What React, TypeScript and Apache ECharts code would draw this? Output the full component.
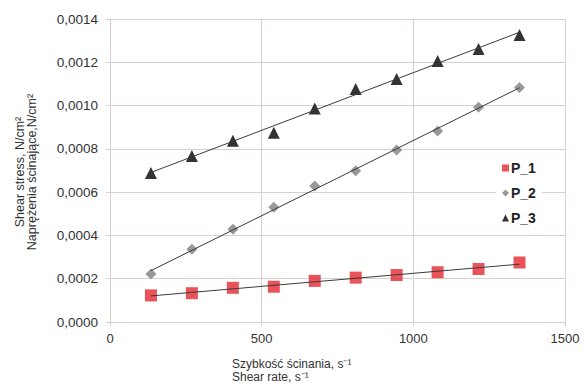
import React, { useEffect, useRef } from "react";
import * as echarts from "echarts";

const shearRate = [135, 270, 405, 540, 675, 810, 945, 1080, 1215, 1350];
const p1 = [0.000123, 0.000133, 0.000158, 0.000163, 0.00019, 0.000205, 0.000217, 0.00023, 0.000245, 0.000275];
const p2 = [0.000222, 0.000336, 0.000428, 0.00053, 0.000628, 0.000699, 0.000795, 0.000883, 0.000992, 0.001084];
const p3 = [0.000688, 0.000767, 0.000838, 0.000875, 0.000987, 0.001077, 0.001123, 0.001206, 0.001261, 0.001326];
const seriesNames = ["P_1", "P_2", "P_3"];
const xTicks = { min: 0, max: 1500, interval: 500 };
const yTicks = { min: 0, max: 0.0014, interval: 0.0002 };

function trend(xs: number[], ys: number[]) {
  const n = xs.length;
  const mx = xs.reduce((a, b) => a + b, 0) / n;
  const my = ys.reduce((a, b) => a + b, 0) / n;
  let sxy = 0, sxx = 0;
  for (let i = 0; i < n; i++) {
    sxy += (xs[i] - mx) * (ys[i] - my);
    sxx += (xs[i] - mx) * (xs[i] - mx);
  }
  const b = sxy / sxx;
  const a = my - b * mx;
  const x0 = xs[0], x1 = xs[n - 1];
  return [[x0, a + b * x0], [x1, a + b * x1]];
}

const FONT = "'Liberation Sans', Arial, sans-serif";
const GRID = "#d9cfcf";

export default function App() {
  const ref = useRef<HTMLDivElement>(null);
  useEffect(() => {
    if (!ref.current) return;
    const chart = echarts.init(ref.current, null, { renderer: "svg" });
    const sets = [p1, p2, p3];
    const symbols = ["rect", "diamond", "triangle"];
    const colors = ["#e5282f", "#7f7f7f", "#000000"];
    const sizes = [12, 11, 12];
    const scatter = sets.map((s, i) => ({
      name: seriesNames[i],
      type: "scatter",
      data: shearRate.map((x, j) => [x, s[j]]),
      symbol: symbols[i],
      symbolSize: sizes[i],
      itemStyle: { color: colors[i] },
      z: 2,
    }));
    const lines = sets.map((s, i) => ({
      name: seriesNames[i] + "_trend",
      type: "line",
      data: trend(shearRate, s),
      symbol: "none",
      lineStyle: { color: "#3a3a3a", width: 1 },
      itemStyle: { color: "#3a3a3a" },
      silent: true,
      z: 3,
    }));
    chart.setOption({
      animation: false,
      backgroundColor: "#ffffff",
      textStyle: { fontFamily: FONT },
      grid: { left: 110, right: 19, top: 19, bottom: 63, containLabel: false },
      legend: {
        data: seriesNames.map((n, i) => ({ name: n, icon: symbols[i] })),
        orient: "vertical",
        left: 496,
        top: 158,
        itemWidth: 7,
        itemHeight: 7,
        itemGap: 11,
        padding: [3, 6, 3, 6],
        backgroundColor: "#ffffff",
        textStyle: { fontFamily: FONT, fontWeight: "bold", fontSize: 14, color: "#222", padding: [0, 0, 0, -3] },
      },
      xAxis: {
        type: "value",
        ...xTicks,
        axisLine: { show: true, lineStyle: { color: GRID } },
        axisTick: { show: true, length: 4, lineStyle: { color: GRID } },
        splitLine: { show: true, lineStyle: { color: GRID, width: 1 } },
        axisLabel: { fontFamily: FONT, fontSize: 13, color: "#333", margin: 10, formatter: (v: number) => String(v) },
      },
      yAxis: {
        type: "value",
        ...yTicks,
        axisLine: { show: true, lineStyle: { color: GRID } },
        axisTick: { show: true, length: 4, lineStyle: { color: GRID } },
        splitLine: { show: true, lineStyle: { color: GRID, width: 1 } },
        axisLabel: {
          fontFamily: FONT,
          fontSize: 13.5,
          color: "#333",
          margin: 12,
          formatter: (v: number) => v.toFixed(4).replace(".", ","),
        },
      },
      graphic: [
        {
          type: "text",
          left: 232,
          top: 357,
          style: {
            text: "Szybkość ścinania, s⁻¹\nShear rate, s⁻¹",
            font: `12px ${FONT}`,
            fill: "#333",
            lineHeight: 13,
          },
        },
        {
          type: "text",
          x: 14,
          y: 172,
          rotation: Math.PI / 2,
          style: {
            text: "Shear stress, N/cm²\nNaprężenia ścinające,N/cm²",
            font: `12.5px ${FONT}`,
            fill: "#333",
            lineHeight: 12,
            align: "center",
            verticalAlign: "top",
          },
        },
      ],
      series: [...scatter, ...lines],
    });
    return () => chart.dispose();
  }, []);
  return (
    <div style={{ position: "fixed", left: 0, top: 0, width: 584, height: 385, background: "#fff" }}>
      <div ref={ref} style={{ width: 584, height: 385 }} />
    </div>
  );
}
